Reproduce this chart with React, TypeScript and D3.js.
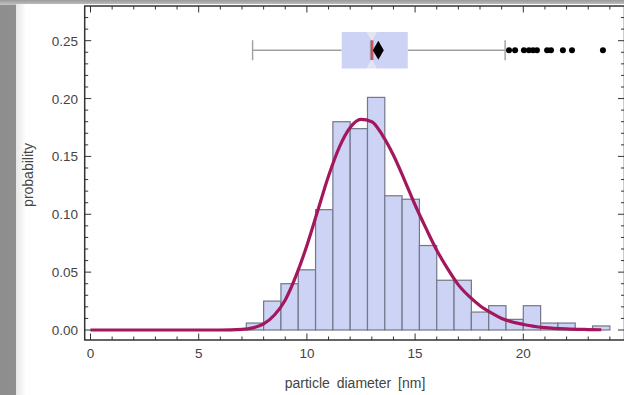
import * as d3 from 'd3';

// histogram: lower bin edges (nm) and probability density per bin
const binWidth = 0.8;
const binStart = [7.2, 8.0, 8.8, 9.6, 10.4, 11.2, 12.0, 12.8, 13.6, 14.4, 15.2, 16.0, 16.8, 17.6, 18.4, 19.2, 20.0, 20.8, 21.6, 22.4, 23.2];
const binHeight = [0.006, 0.025, 0.040, 0.052, 0.104, 0.180, 0.174, 0.201, 0.116, 0.113, 0.073, 0.043, 0.043, 0.0155, 0.021, 0.0092, 0.021, 0.006, 0.006, 0, 0.0035];

// fitted distribution curve
const curveX = [0, 6, 7, 7.5, 8, 8.5, 9, 9.5, 10, 10.5, 11, 11.5, 12, 12.5, 13, 13.5, 14, 14.5, 15, 15.5, 16, 16.5, 17, 17.5, 18, 18.5, 19, 20, 21, 22, 23, 23.6];
const curveY = [0, 0, 0.0005, 0.0018, 0.0053, 0.013, 0.026, 0.047, 0.073, 0.103, 0.133, 0.158, 0.175, 0.182, 0.180, 0.168, 0.151, 0.130, 0.108, 0.088, 0.069, 0.053, 0.039, 0.029, 0.021, 0.015, 0.010, 0.0048, 0.0021, 0.0009, 0.0004, 0.0002];

// box-whisker summary (nm)
const whiskerLow = 7.49;
const q1 = 11.61;
const notchLow = 12.76;
const median = 13.0;
const notchHigh = 13.22;
const q3 = 14.66;
const whiskerHigh = 19.16;
const mean = 13.3;
const boxLevel = 0.2418;
const outliers = [19.34, 19.62, 20.03, 20.26, 20.45, 20.63, 21.1, 21.28, 21.83, 22.25, 23.68];

const xTickLabels = [0, 5, 10, 15, 20];
const yTickLabels = [0, 0.05, 0.1, 0.15, 0.2, 0.25];

const W = 624;
const H = 395;
const frame = { left: 84.7, right: 624.5, top: 6, bottom: 340 };

export default function App() {
  const x = d3.scaleLinear().domain([0, 20]).range([90.5, 523.3]);
  const y = d3.scaleLinear().domain([0, 0.25]).range([330, 40.7]);

  const xMinor = d3.range(0, 25, 1);
  const yMinor = d3.range(0, 0.285, 0.01).filter(v => y(v) > frame.top + 1 && y(v) < frame.bottom - 1);

  const line = d3.line<number>()
    .x((_, i) => x(curveX[i]))
    .y(d => y(d))
    .curve(d3.curveMonotoneX);

  const by = y(boxLevel);
  const bh = 18.3;
  const notchDepth = 8.5;
  const pts = (a: number[][]) => a.map(p => p.join(',')).join(' ');
  const boxPath = pts([
    [x(q1), by - bh], [x(notchLow), by - bh], [x(median), by - bh + notchDepth], [x(notchHigh), by - bh],
    [x(q3), by - bh], [x(q3), by + bh], [x(notchHigh), by + bh], [x(median), by + bh - notchDepth],
    [x(notchLow), by + bh], [x(q1), by + bh],
  ]);
  const notchTop = pts([[x(notchLow), by - bh], [x(notchHigh), by - bh], [x(median), by - bh + notchDepth]]);
  const notchBot = pts([[x(notchLow), by + bh], [x(notchHigh), by + bh], [x(median), by + bh - notchDepth]]);
  const mx = x(mean);

  const axisColor = '#333';
  const labelColor = '#444';
  const font = '"Liberation Sans", Arial, sans-serif';

  return (
    <div style={{ position: 'fixed', left: 0, top: 0, width: W, height: H, overflow: 'hidden' }}>
      <svg width={W} height={H} style={{ display: 'block' }}>
        <defs>
          <linearGradient id="leftShade" x1="0" x2="1" y1="0" y2="0">
            <stop offset="0" stopColor="#8e8e8e" />
            <stop offset="0.7" stopColor="#b5b5b5" />
            <stop offset="1" stopColor="#c8c8c8" />
          </linearGradient>
          <linearGradient id="topShade" x1="0" x2="0" y1="0" y2="1">
            <stop offset="0" stopColor="#9a9a9a" />
            <stop offset="1" stopColor="#c4c4c4" />
          </linearGradient>
          <linearGradient id="innerShade" x1="0" x2="1" y1="0" y2="0">
            <stop offset="0" stopColor="#e6e6e6" />
            <stop offset="1" stopColor="#ffffff" />
          </linearGradient>
        </defs>
        <rect x={0} y={0} width={W} height={H} fill="url(#leftShade)" />
        <rect x={0} y={0} width={W} height={5} fill="url(#topShade)" />
        <rect x={16} y={4} width={W - 16} height={H - 4} fill="#fff" />
        <rect x={16} y={4} width={10} height={H - 4} fill="url(#innerShade)" />

        {/* histogram */}
        {binStart.map((b, i) => binHeight[i] > 0 && (
          <rect key={b} x={x(b)} y={y(binHeight[i])} width={x(b + binWidth) - x(b)} height={y(0) - y(binHeight[i])}
            fill="#ccd3f4" stroke="#737789" strokeWidth={1.2} />
        ))}

        {/* fitted curve */}
        <path d={line(curveY) || ''} fill="none" stroke="#a3175c" strokeWidth={3.2} strokeLinejoin="round" />

        {/* box-whisker */}
        <line x1={x(whiskerLow)} x2={x(q1)} y1={by} y2={by} stroke="#a0a0a0" strokeWidth={1.4} />
        <line x1={x(q3)} x2={x(whiskerHigh)} y1={by} y2={by} stroke="#a0a0a0" strokeWidth={1.4} />
        <line x1={x(whiskerLow)} x2={x(whiskerLow)} y1={by - 10} y2={by + 10} stroke="#a0a0a0" strokeWidth={1.4} />
        <line x1={x(whiskerHigh)} x2={x(whiskerHigh)} y1={by - 10} y2={by + 10} stroke="#a0a0a0" strokeWidth={1.4} />
        <polygon points={boxPath} fill="#ccd3f4" />
        <polygon points={notchTop} fill="#e3e5ee" />
        <polygon points={notchBot} fill="#e3e5ee" />
        <line x1={x(median)} x2={x(median)} y1={by - bh + notchDepth} y2={by + bh - notchDepth} stroke="#9ea2b6" strokeWidth={4} />
        <line x1={x(median)} x2={x(median)} y1={by - bh + notchDepth} y2={by + bh - notchDepth} stroke="#e0404a" strokeWidth={2} />
        <polygon points={`${mx},${by - 9.5} ${mx + 5.5},${by} ${mx},${by + 9.5} ${mx - 5.5},${by}`} fill="#000" />
        {outliers.map((o, i) => (
          <circle key={i} cx={x(o)} cy={by} r={3} fill="#000" />
        ))}

        {/* frame */}
        <rect x={frame.left} y={frame.top} width={frame.right - frame.left} height={frame.bottom - frame.top}
          fill="none" stroke={axisColor} strokeWidth={1.5} />
        {xMinor.map(v => {
          const major = v % 5 === 0;
          const len = major ? 6.5 : 3.5;
          return (
            <g key={'x' + v}>
              <line x1={x(v)} x2={x(v)} y1={frame.bottom} y2={frame.bottom - len} stroke={axisColor} strokeWidth={1} />
              <line x1={x(v)} x2={x(v)} y1={frame.top} y2={frame.top + len} stroke={axisColor} strokeWidth={1} />
            </g>
          );
        })}
        {yMinor.map(v => {
          const major = Math.abs(Math.round(v * 100) % 5) === 0;
          const len = major ? 6.5 : 3.5;
          return (
            <g key={'y' + v}>
              <line x1={frame.left} x2={frame.left + len} y1={y(v)} y2={y(v)} stroke={axisColor} strokeWidth={1} />
              <line x1={frame.right} x2={frame.right - len} y1={y(v)} y2={y(v)} stroke={axisColor} strokeWidth={1} />
            </g>
          );
        })}
        {xTickLabels.map(v => (
          <text key={'xl' + v} x={x(v)} y={358} textAnchor="middle" fontFamily={font} fontSize={13.5} fill={labelColor}>{v}</text>
        ))}
        {yTickLabels.map(v => (
          <text key={'yl' + v} x={78} y={y(v) + 5} textAnchor="end" fontFamily={font} fontSize={13.5} fill={labelColor}>{v.toFixed(2)}</text>
        ))}
        <text x={355} y={388} textAnchor="middle" fontFamily={font} fontSize={14} fill={labelColor} wordSpacing={3}>particle diameter [nm]</text>
        <text transform="translate(33,175) rotate(-90)" textAnchor="middle" fontFamily={font} fontSize={14} fill={labelColor}>probability</text>
      </svg>
    </div>
  );
}
